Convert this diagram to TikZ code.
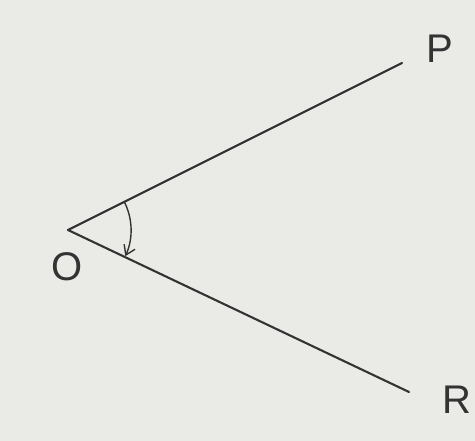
\documentclass[tikz,border=0pt]{standalone}
\usepackage{fontspec}
\setmainfont{Liberation Sans}
\usetikzlibrary{arrows.meta}
\definecolor{paper}{HTML}{EAEAE7}
\definecolor{pencil}{HTML}{333333}
\tikzset{
  ray/.style={line width=2.1pt, draw=pencil, line cap=round},
  turn/.style={-{Straight Barb[length=9pt, width=12pt]}, line width=1.4pt, draw=pencil},
  letter/.style={text=pencil, font=\fontsize{40}{40}\selectfont}
}

\begin{document}
\begin{tikzpicture}[x=1pt,y=1pt]
        \fill[paper] (0,0) rectangle (475,441);
        \useasboundingbox (0,0) rectangle (475,441);
        \coordinate (O) at (68,211);
        \coordinate (P) at (402,378);
        \coordinate (R) at (409,49);
        \draw[ray] (O) -- (P);
        \draw[ray] (O) -- (R);
        \draw[turn] ([shift={(26.6:63)}]O) arc[start angle=26.6, end angle=-24.5, radius=63];
        \node[letter] (labO) at (67,174) {O};
        \node[letter] (labP) at (440,392) {P};
        \node[letter] (labR) at (457,41) {R};
      \end{tikzpicture}
\end{document}
